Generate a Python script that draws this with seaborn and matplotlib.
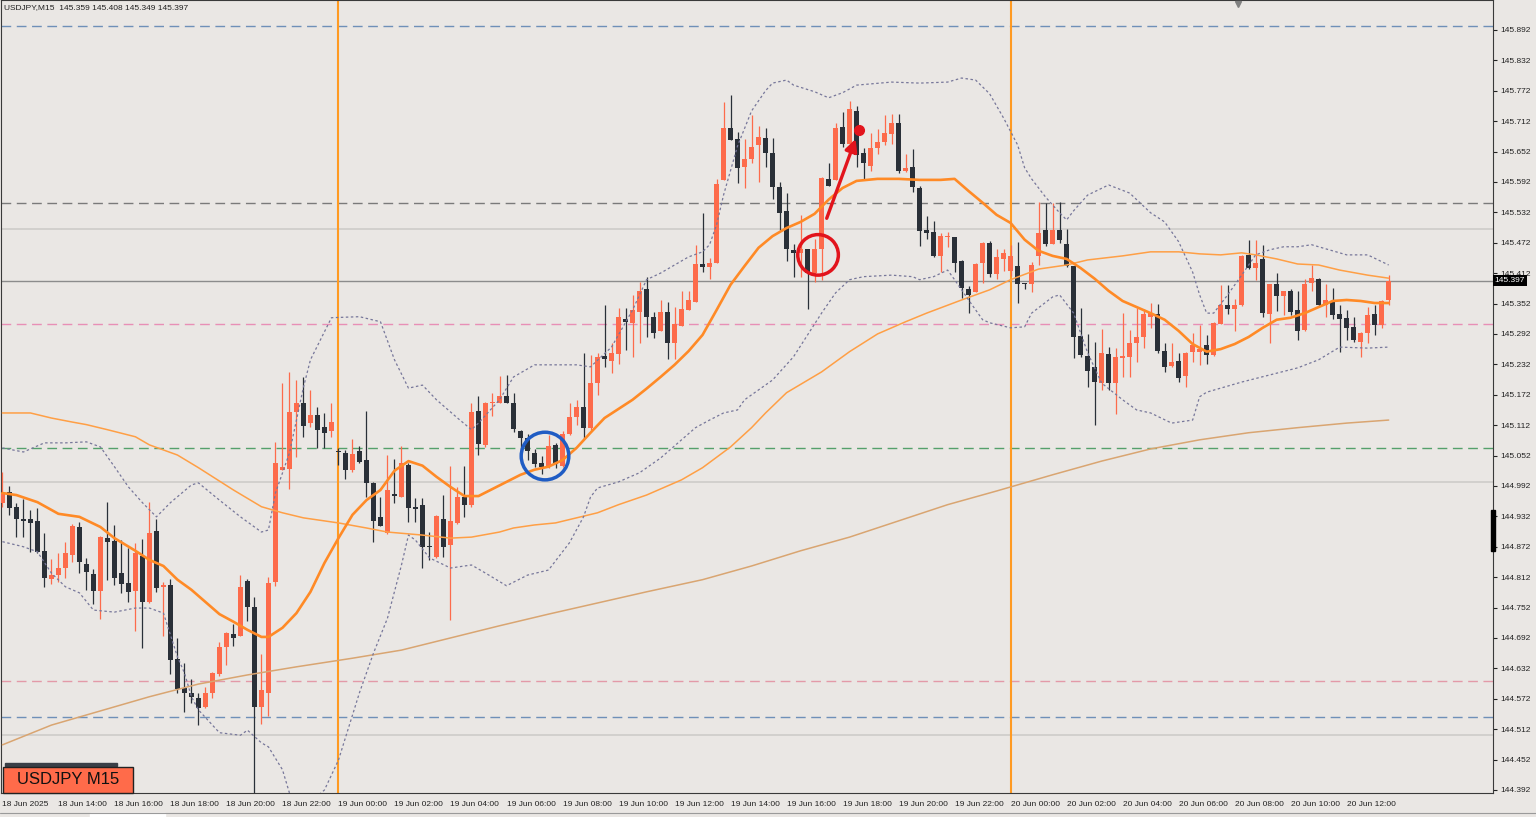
"""
plot.py

USDJPY M15 candlestick chart with moving averages, Bollinger bands
and horizontal levels (MT4 style).
"""

import matplotlib
matplotlib.use("Agg")

import matplotlib.pyplot as plt
import matplotlib.transforms as mtransforms
import numpy as np
import pandas as pd
import seaborn as sns
from matplotlib.lines import Line2D
from matplotlib.patches import Ellipse, Rectangle


# ==========================================================
# Data
# ==========================================================

SYMBOL = "USDJPY"
TIMEFRAME = "M15"
START = "2025-06-18 12:00"

opens = [
    144.959, 144.980, 144.951, 144.927, 144.927, 144.923, 144.864, 144.808, 144.816, 144.830,
    144.856, 144.911, 144.838, 144.818, 144.785, 144.889, 144.883, 144.820, 144.801, 144.785,
    144.854, 144.763, 144.903, 144.793, 144.797, 144.651, 144.593, 144.584, 144.574, 144.556,
    144.584, 144.621, 144.674, 144.700, 144.696, 144.805, 144.753, 144.556, 144.584, 144.803,
    145.024, 145.026, 145.138, 145.156, 145.116, 145.132, 145.109, 145.101, 145.061, 145.057,
    145.024, 145.061, 145.043, 144.998, 144.931, 144.899, 144.976, 144.970, 145.033, 144.951,
    144.955, 144.872, 144.852, 144.927, 144.876, 144.919, 144.970, 144.955, 145.140, 145.073,
    145.156, 145.156, 145.170, 145.156, 145.101, 145.087, 145.057, 145.037, 145.030, 145.073,
    145.032, 145.095, 145.128, 145.148, 145.107, 145.195, 145.249, 145.239, 145.253, 145.322,
    145.314, 145.335, 145.381, 145.326, 145.298, 145.335, 145.274, 145.308, 145.339, 145.355,
    145.430, 145.424, 145.432, 145.596, 145.699, 145.677, 145.622, 145.637, 145.665, 145.679,
    145.649, 145.582, 145.535, 145.458, 145.452, 145.460, 145.412, 145.460, 145.598, 145.596,
    145.701, 145.667, 145.732, 145.649, 145.623, 145.659, 145.671, 145.687, 145.708, 145.614,
    145.622, 145.580, 145.497, 145.493, 145.446, 145.483, 145.483, 145.436, 145.381, 145.375,
    145.432, 145.472, 145.410, 145.440, 145.416, 145.426, 145.391, 145.391, 145.446, 145.497,
    145.470, 145.497, 145.470, 145.426, 145.288, 145.249, 145.227, 145.195, 145.253, 145.195,
    145.245, 145.247, 145.274, 145.286, 145.326, 145.331, 145.258, 145.229, 145.239, 145.209,
    145.257, 145.257, 145.270, 145.251, 145.312, 145.349, 145.341, 145.349, 145.448, 145.422,
    145.440, 145.331, 145.391, 145.367, 145.377, 145.339, 145.300, 145.393, 145.401, 145.349,
    145.355, 145.331, 145.324, 145.306, 145.276, 145.294, 145.331, 145.310, 145.359,
]

highs = [
    145.020, 144.992, 144.959, 144.966, 144.945, 144.949, 144.899, 144.848, 144.860, 144.882,
    144.917, 144.921, 144.850, 144.828, 144.893, 144.961, 144.915, 144.885, 144.870, 144.880,
    144.887, 144.961, 144.927, 144.803, 144.808, 144.692, 144.643, 144.611, 144.584, 144.595,
    144.625, 144.684, 144.704, 144.720, 144.816, 144.808, 144.773, 144.660, 144.812, 145.079,
    145.195, 145.217, 145.201, 145.207, 145.182, 145.148, 145.136, 145.156, 145.067, 145.063,
    145.085, 145.071, 145.140, 145.000, 144.970, 145.053, 145.045, 145.071, 145.037, 144.968,
    144.968, 144.901, 144.935, 144.974, 145.032, 144.990, 145.032, 145.156, 145.170, 145.158,
    145.176, 145.209, 145.211, 145.176, 145.103, 145.095, 145.065, 145.051, 145.093, 145.077,
    145.101, 145.156, 145.162, 145.255, 145.251, 145.255, 145.349, 145.274, 145.343, 145.343,
    145.369, 145.395, 145.405, 145.335, 145.359, 145.355, 145.345, 145.377, 145.377, 145.468,
    145.531, 145.442, 145.598, 145.750, 145.764, 145.691, 145.677, 145.724, 145.703, 145.699,
    145.679, 145.592, 145.570, 145.470, 145.527, 145.460, 145.480, 145.602, 145.629, 145.708,
    145.730, 145.752, 145.742, 145.659, 145.689, 145.697, 145.724, 145.726, 145.726, 145.647,
    145.657, 145.584, 145.525, 145.515, 145.491, 145.493, 145.483, 145.438, 145.387, 145.432,
    145.474, 145.476, 145.460, 145.460, 145.468, 145.474, 145.393, 145.434, 145.553, 145.551,
    145.551, 145.553, 145.499, 145.426, 145.343, 145.292, 145.276, 145.302, 145.266, 145.264,
    145.333, 145.300, 145.343, 145.341, 145.353, 145.351, 145.274, 145.274, 145.255, 145.257,
    145.294, 145.310, 145.290, 145.316, 145.389, 145.389, 145.361, 145.448, 145.478, 145.478,
    145.468, 145.391, 145.412, 145.377, 145.381, 145.377, 145.401, 145.428, 145.403, 145.391,
    145.383, 145.349, 145.339, 145.326, 145.296, 145.345, 145.349, 145.359, 145.408,
]

lows = [
    144.951, 144.935, 144.891, 144.891, 144.862, 144.860, 144.793, 144.799, 144.803, 144.810,
    144.842, 144.820, 144.787, 144.759, 144.729, 144.807, 144.797, 144.781, 144.763, 144.706,
    144.672, 144.761, 144.783, 144.696, 144.621, 144.584, 144.546, 144.564, 144.520, 144.554,
    144.574, 144.617, 144.639, 144.676, 144.696, 144.726, 144.386, 144.522, 144.538, 144.795,
    145.024, 144.986, 145.049, 145.089, 145.109, 145.067, 145.067, 145.089, 145.033, 145.006,
    145.020, 145.037, 144.970, 144.882, 144.913, 144.897, 144.959, 144.970, 144.921, 144.921,
    144.830, 144.846, 144.850, 144.852, 144.728, 144.917, 144.931, 144.951, 145.053, 145.069,
    145.130, 145.156, 145.156, 145.099, 145.053, 145.043, 145.030, 145.016, 145.028, 145.028,
    145.030, 145.093, 145.113, 145.085, 145.103, 145.172, 145.227, 145.215, 145.233, 145.260,
    145.247, 145.274, 145.286, 145.284, 145.298, 145.243, 145.243, 145.308, 145.339, 145.355,
    145.414, 145.401, 145.432, 145.596, 145.675, 145.590, 145.580, 145.629, 145.592, 145.622,
    145.558, 145.497, 145.436, 145.405, 145.405, 145.341, 145.395, 145.399, 145.584, 145.596,
    145.661, 145.661, 145.622, 145.598, 145.614, 145.647, 145.665, 145.667, 145.610, 145.612,
    145.572, 145.466, 145.480, 145.444, 145.414, 145.464, 145.414, 145.363, 145.333, 145.375,
    145.393, 145.405, 145.401, 145.416, 145.406, 145.353, 145.381, 145.375, 145.428, 145.466,
    145.470, 145.472, 145.424, 145.245, 145.247, 145.187, 145.113, 145.182, 145.182, 145.134,
    145.207, 145.207, 145.237, 145.264, 145.304, 145.255, 145.217, 145.227, 145.197, 145.187,
    145.237, 145.231, 145.233, 145.249, 145.312, 145.331, 145.298, 145.347, 145.420, 145.399,
    145.326, 145.274, 145.337, 145.329, 145.329, 145.280, 145.298, 145.377, 145.347, 145.326,
    145.322, 145.257, 145.280, 145.276, 145.247, 145.274, 145.290, 145.304, 145.349,
]

closes = [
    144.978, 144.949, 144.927, 144.923, 144.919, 144.862, 144.810, 144.816, 144.830, 144.860,
    144.913, 144.842, 144.822, 144.785, 144.891, 144.882, 144.810, 144.799, 144.783, 144.860,
    144.763, 144.899, 144.791, 144.797, 144.649, 144.591, 144.584, 144.576, 144.554, 144.584,
    144.623, 144.674, 144.702, 144.692, 144.793, 144.753, 144.556, 144.589, 144.801, 145.037,
    145.030, 145.138, 145.156, 145.111, 145.132, 145.103, 145.097, 145.118, 145.059, 145.024,
    145.055, 145.039, 144.998, 144.923, 144.913, 144.984, 144.972, 145.037, 144.949, 144.947,
    144.872, 144.872, 144.933, 144.872, 144.923, 144.970, 144.955, 145.138, 145.075, 145.156,
    145.158, 145.170, 145.156, 145.105, 145.087, 145.061, 145.035, 145.030, 145.071, 145.035,
    145.095, 145.128, 145.148, 145.107, 145.195, 145.247, 145.243, 145.255, 145.326, 145.316,
    145.339, 145.377, 145.326, 145.294, 145.335, 145.274, 145.312, 145.341, 145.359, 145.430,
    145.424, 145.432, 145.588, 145.699, 145.675, 145.620, 145.637, 145.661, 145.681, 145.649,
    145.582, 145.531, 145.460, 145.452, 145.460, 145.412, 145.460, 145.600, 145.584, 145.699,
    145.667, 145.736, 145.645, 145.629, 145.659, 145.671, 145.689, 145.708, 145.614, 145.620,
    145.582, 145.495, 145.491, 145.446, 145.485, 145.485, 145.432, 145.383, 145.369, 145.430,
    145.472, 145.410, 145.444, 145.452, 145.446, 145.391, 145.391, 145.428, 145.491, 145.470,
    145.497, 145.478, 145.426, 145.286, 145.251, 145.219, 145.197, 145.255, 145.195, 145.247,
    145.249, 145.274, 145.286, 145.331, 145.333, 145.258, 145.227, 145.237, 145.205, 145.255,
    145.270, 145.262, 145.251, 145.314, 145.349, 145.341, 145.349, 145.446, 145.422, 145.432,
    145.333, 145.391, 145.367, 145.377, 145.335, 145.298, 145.391, 145.403, 145.349, 145.359,
    145.329, 145.322, 145.304, 145.280, 145.294, 145.329, 145.310, 145.357, 145.397,
]

# Bollinger middle (thick orange moving average)
ma_idx = [
    0, 2, 5, 8, 11, 14, 16, 19, 21, 23, 25, 27, 29, 31, 33, 35, 37, 38, 40, 42,
    44, 46, 48, 50, 52, 54, 56, 58, 60, 62, 64, 66, 68, 70, 72, 74, 76, 78, 80, 82,
    84, 86, 88, 90, 92, 94, 96, 98, 100, 102, 104, 106, 108, 110, 112, 114, 116, 118, 120, 122,
    125, 128, 131, 134, 136, 138, 140, 142, 144, 146, 148, 150, 152, 154, 156, 158, 160, 162, 164, 166,
    168, 170, 172, 174, 176, 178, 180, 182, 184, 186, 188, 190, 192, 194, 196, 198,
]
ma_val = [
    144.978, 144.974, 144.960, 144.937, 144.931, 144.911, 144.889, 144.864, 144.846, 144.834,
    144.807, 144.787, 144.763, 144.739, 144.724, 144.708, 144.694, 144.694, 144.712, 144.741,
    144.783, 144.840, 144.889, 144.935, 144.964, 144.984, 145.022, 145.041, 145.032, 145.010,
    144.990, 144.972, 144.972, 144.986, 145.000, 145.014, 145.024, 145.030, 145.043, 145.067,
    145.097, 145.126, 145.144, 145.162, 145.184, 145.207, 145.231, 145.258, 145.290, 145.339,
    145.389, 145.426, 145.462, 145.485, 145.501, 145.513, 145.529, 145.557, 145.580, 145.594,
    145.598, 145.598, 145.596, 145.596, 145.598, 145.574, 145.551, 145.527, 145.511, 145.478,
    145.456, 145.446, 145.440, 145.422, 145.401, 145.377, 145.357, 145.345, 145.333, 145.320,
    145.298, 145.272, 145.257, 145.262, 145.272, 145.286, 145.304, 145.320, 145.324, 145.333,
    145.345, 145.357, 145.359, 145.357, 145.353, 145.353,
]

# Bollinger upper band
bbu_idx = [
    0, 3, 6, 9, 12, 14, 16, 18, 20, 22, 24, 27, 28, 31, 34, 37, 38, 39, 41, 43,
    44, 47, 51, 54, 56, 58, 60, 62, 65, 67, 68, 71, 73, 76, 82, 84, 87, 90, 92, 94,
    96, 98, 100, 101, 102, 103, 105, 107, 109, 110, 112, 113, 116, 118, 120, 122, 127, 131, 135, 137,
    139, 141, 143, 145, 146, 147, 149, 151, 152, 153, 155, 158, 161, 164, 166, 168, 170, 171, 172, 173,
    175, 177, 179, 181, 183, 185, 187, 189, 192, 195, 198,
]
bbu_val = [
    145.067, 145.059, 145.077, 145.077, 145.079, 145.069, 145.030, 144.990, 144.959, 144.931,
    144.959, 144.994, 144.998, 144.964, 144.931, 144.901, 144.905, 144.978, 145.057, 145.187,
    145.241, 145.324, 145.326, 145.316, 145.241, 145.185, 145.191, 145.162, 145.126, 145.103,
    145.116, 145.162, 145.207, 145.231, 145.231, 145.227, 145.266, 145.339, 145.399, 145.412,
    145.428, 145.444, 145.454, 145.468, 145.507, 145.566, 145.663, 145.732, 145.772, 145.787,
    145.793, 145.783, 145.770, 145.758, 145.768, 145.783, 145.789, 145.787, 145.789, 145.797,
    145.793, 145.766, 145.718, 145.665, 145.620, 145.598, 145.562, 145.531, 145.517, 145.535,
    145.566, 145.586, 145.570, 145.531, 145.513, 145.474, 145.414, 145.369, 145.333, 145.333,
    145.369, 145.408, 145.448, 145.458, 145.464, 145.464, 145.468, 145.460, 145.448, 145.448,
    145.428,
]

# Bollinger lower band
bbl_idx = [
    0, 3, 5, 7, 9, 11, 13, 16, 19, 21, 23, 25, 26, 27, 28, 31, 34, 35, 37, 38,
    40, 41, 43, 45, 46, 48, 51, 53, 55, 57, 58, 59, 61, 64, 67, 69, 72, 75, 78, 81,
    83, 84, 85, 88, 91, 94, 97, 99, 101, 103, 105, 106, 110, 113, 115, 117, 119, 121, 123, 127,
    130, 131, 133, 135, 136, 138, 140, 141, 144, 146, 147, 150, 151, 153, 155, 157, 160, 162, 164, 167,
    170, 171, 172, 177, 181, 185, 188, 191, 195, 198,
]
bbl_val = [
    144.882, 144.872, 144.862, 144.820, 144.793, 144.781, 144.747, 144.743, 144.751, 144.751,
    144.741, 144.655, 144.623, 144.576, 144.550, 144.505, 144.500, 144.510, 144.485, 144.477,
    144.432, 144.386, 144.362, 144.380, 144.392, 144.451, 144.584, 144.662, 144.731, 144.836,
    144.895, 144.885, 144.850, 144.830, 144.836, 144.820, 144.795, 144.816, 144.826, 144.880,
    144.931, 144.970, 144.988, 145.000, 145.018, 145.047, 145.083, 145.107, 145.122, 145.136,
    145.142, 145.162, 145.201, 145.247, 145.290, 145.333, 145.373, 145.399, 145.405, 145.408,
    145.405, 145.399, 145.405, 145.418, 145.399, 145.359, 145.320, 145.314, 145.304, 145.306,
    145.333, 145.365, 145.369, 145.333, 145.255, 145.195, 145.162, 145.142, 145.136, 145.116,
    145.122, 145.168, 145.177, 145.197, 145.211, 145.225, 145.241, 145.266, 145.264, 145.266,
]

# Medium moving average (thin orange)
s50_idx = [
    0, 4, 7, 10, 12, 15, 19, 21, 25, 28, 33, 37, 40, 43, 48, 52, 55, 60, 64, 67,
    71, 73, 76, 79, 82, 85, 88, 92, 97, 100, 104, 107, 109, 112, 117, 121, 125, 129, 132, 137,
    141, 144, 148, 152, 155, 160, 164, 168, 171, 174, 177, 179, 182, 185, 188, 191, 195, 198,
]
s50_val = [
    145.136, 145.136, 145.126, 145.118, 145.113, 145.103, 145.089, 145.073, 145.053, 145.028,
    144.984, 144.951, 144.939, 144.929, 144.919, 144.909, 144.901, 144.895, 144.889, 144.891,
    144.901, 144.909, 144.915, 144.919, 144.929, 144.939, 144.955, 144.974, 145.004, 145.028,
    145.069, 145.107, 145.136, 145.176, 145.217, 145.257, 145.292, 145.316, 145.333, 145.359,
    145.379, 145.399, 145.420, 145.428, 145.438, 145.446, 145.454, 145.454, 145.450, 145.448,
    145.452, 145.448, 145.440, 145.430, 145.428, 145.418, 145.408, 145.402,
]

# Slow moving average (tan)
s200_idx = [
    0, 7, 14, 21, 28, 35, 42, 50, 57, 64, 71, 78, 85, 92, 100, 107, 114, 121, 128, 135,
    142, 150, 157, 164, 171, 178, 185, 192, 198,
]
s200_val = [
    144.481, 144.520, 144.548, 144.576, 144.601, 144.619, 144.635, 144.652, 144.668, 144.692,
    144.716, 144.739, 144.761, 144.783, 144.807, 144.834, 144.864, 144.891, 144.923, 144.955,
    144.982, 145.014, 145.041, 145.065, 145.083, 145.097, 145.107, 145.116, 145.122,
]

level_prices = [145.900, 145.551, 145.500, 145.397, 145.312, 145.067, 145.000, 144.607, 144.536, 144.500]
session_starts = ["2025-06-19 00:00", "2025-06-20 00:00"]


# ==========================================================
# Style
# ==========================================================

W, H = 1536, 817
BG = "#eae7e4"
BULL = "#fd6b4b"
BEAR = "#2a3038"
RED = "#e2141c"
BLUE = "#1f5cc4"

LEVEL_STYLES = [
    ("#6f90b8", (0, (7, 4)), 1.0),
    ("#7a7a7a", (0, (7, 4)), 1.0),
    ("#d2d0cd", "-", 1.4),
    ("#8c8c8c", "-", 1.0),
    ("#e88fb6", (0, (7, 4)), 1.0),
    ("#55a06b", (0, (7, 4)), 1.0),
    ("#d2d0cd", "-", 1.4),
    ("#e39aa8", (0, (7, 4)), 1.0),
    ("#6f90b8", (0, (7, 4)), 1.0),
    ("#d2d0cd", "-", 1.4),
]

sns.set_style("white")
plt.rcParams["font.family"] = ["Liberation Sans", "DejaVu Sans"]


# ==========================================================
# Figure
# ==========================================================

df = pd.DataFrame({"open": opens, "high": highs, "low": lows, "close": closes})
df["time"] = pd.date_range(START, periods=len(df), freq="15min")
x = np.arange(len(df))

fig = plt.figure(figsize=(W / 100, H / 100), dpi=100, facecolor=BG)
ax = fig.add_axes([1 / W, 1 - 793 / H, 1492 / W, 793 / H])
ax.set_facecolor(BG)

# levels and session separators
for price, (color, style, lw) in zip(level_prices, LEVEL_STYLES):
    ax.axhline(price, color=color, ls=style, lw=lw, zorder=1)

for ts in session_starts:
    pos = df.index[df["time"] == pd.Timestamp(ts)][0]
    ax.axvline(pos, color="#ff9a22", lw=1.5, zorder=2)

# candles
colors = np.where(df["close"] > df["open"], BULL, BEAR)
ax.vlines(x, df["low"], df["high"], colors=colors, lw=0.9, zorder=3)
body = (df["close"] - df["open"]).abs().clip(lower=0.0018)
ax.bar(
    x,
    body,
    bottom=df[["open", "close"]].min(axis=1),
    width=0.68,
    color=colors,
    linewidth=0,
    zorder=3,
)

# indicators
sns.lineplot(x=s200_idx, y=s200_val, ax=ax, color="#d9a571", linewidth=1.1, zorder=4)
sns.lineplot(x=s50_idx, y=s50_val, ax=ax, color="#ff9f45", linewidth=1.1, zorder=4)
sns.lineplot(x=bbu_idx, y=bbu_val, ax=ax, color="#77779a", linewidth=0.9,
             linestyle=(0, (2, 2)), zorder=4)
sns.lineplot(x=bbl_idx, y=bbl_val, ax=ax, color="#77779a", linewidth=0.9,
             linestyle=(0, (2, 2)), zorder=4)
sns.lineplot(x=ma_idx, y=ma_val, ax=ax, color="#ff8a26", linewidth=1.9, zorder=4)

# hand-drawn marks
ax.add_patch(Ellipse((77.5, 145.051), 6.8, 0.094, fill=False, ec=BLUE, lw=2.5, zorder=6))
ax.add_patch(Ellipse((116.5, 145.448), 5.8, 0.080, fill=False, ec=RED, lw=2.5, zorder=6))
ax.annotate(
    "",
    xy=(122.0, 145.682),
    xytext=(117.6, 145.515),
    arrowprops=dict(arrowstyle="-|>", color=RED, lw=2.4, mutation_scale=18),
    zorder=6,
)
ax.plot([122.4], [145.694], "o", color=RED, ms=7, zorder=6)

# axes
ax.set_xlim(-0.2, 212.9)
ax.set_ylim(144.386, 145.951)
ax.set_xlabel("")
ax.set_ylabel("")

yt = np.round(np.arange(144.392, 145.9, 0.06), 3)
ax.yaxis.tick_right()
ax.set_yticks(yt)
ax.set_yticklabels([f"{v:.3f}" for v in yt])
ax.tick_params(axis="y", length=3, width=0.8, pad=2, labelsize=6, colors="#222222")

xt = list(range(0, len(df), 8))
xl = [
    df["time"][i].strftime("%d %b %Y") if i == 0 else df["time"][i].strftime("%d %b %H:%M")
    for i in xt
]
ax.set_xticks(xt)
ax.set_xticklabels(xl)
ax.tick_params(axis="x", length=4, width=0.8, pad=1.5, labelsize=6, colors="#222222")
plt.setp(ax.get_xticklabels(), ha="left")

for spine in ax.spines.values():
    spine.set_color("#3a3a3a")
    spine.set_linewidth(0.8)

# current price tag
last = df.iloc[-1]
trans = mtransforms.blended_transform_factory(ax.transAxes, ax.transData)
ax.text(
    1.0012,
    last["close"],
    f"{last['close']:.3f}",
    transform=trans,
    fontsize=6,
    color="white",
    va="center",
    ha="left",
    clip_on=False,
    zorder=10,
    bbox=dict(facecolor="black", edgecolor="none", pad=1.3),
)

# header text
fig.text(
    4 / W,
    1 - 8 / H,
    f"{SYMBOL},{TIMEFRAME}  {last['open']:.3f} {last['high']:.3f} "
    f"{last['low']:.3f} {last['close']:.3f}",
    fontsize=6,
    color="#222222",
    va="center",
)

# chart shift marker and axis bar
fig.add_artist(Line2D([1238 / W], [1 - 4 / H], marker="v", color="#808080",
                      markersize=5, transform=fig.transFigure))
fig.add_artist(Rectangle((1491 / W, 1 - 551 / H), 4 / W, 41 / H,
                         color="black", transform=fig.transFigure))

# symbol badge
fig.add_artist(Rectangle((5 / W, 1 - 766 / H), 112 / W, 3 / H,
                         color="#3a3f47", transform=fig.transFigure))
fig.add_artist(Rectangle((3 / W, 1 - 793 / H), 130 / W, 26 / H, facecolor="#ff6b4a",
                         edgecolor="#222222", lw=1, transform=fig.transFigure))
fig.text(68 / W, 1 - 780 / H, f"{SYMBOL} {TIMEFRAME}", fontsize=12,
         color="#111111", ha="center", va="center")

# bottom tab strip
fig.add_artist(Line2D([0, 1], [1 - 813 / H, 1 - 813 / H], color="#9a9a9a",
                      lw=0.8, transform=fig.transFigure))
fig.add_artist(Rectangle((90 / W, 0), 75 / W, 4 / H, color="white",
                         transform=fig.transFigure))

fig.savefig("out.png", dpi=100, facecolor=BG)
plt.close(fig)
